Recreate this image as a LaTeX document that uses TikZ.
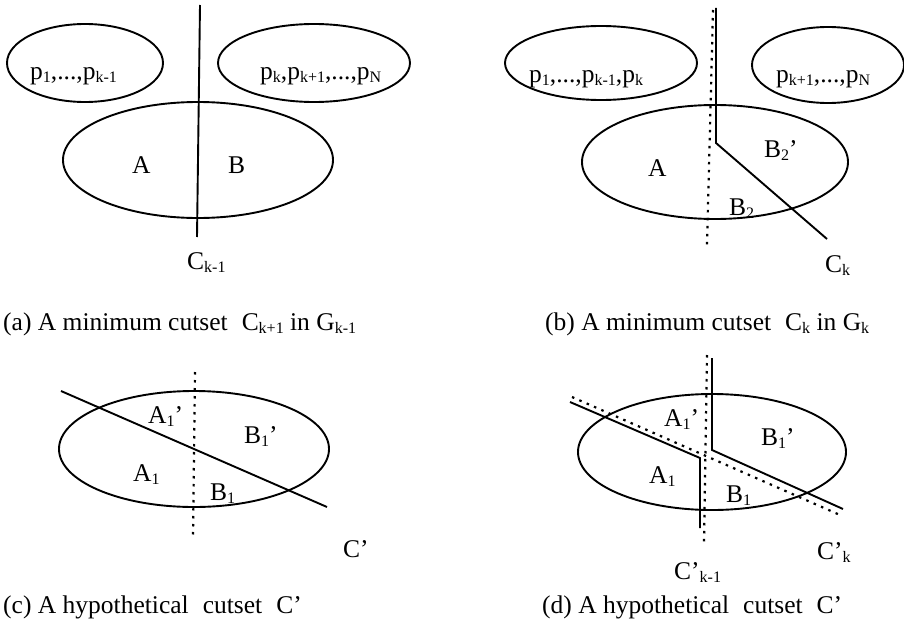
\documentclass[tikz,border=0pt]{standalone}
\usepackage{fontspec}
\setmainfont{Liberation Serif}
\usepackage{tikz}
\usetikzlibrary{positioning}
\newcommand{\lsub}[1]{\raisebox{-0.3ex}{\fontsize{16}{16}\selectfont #1}}
\newcommand{\wsp}{\hspace{0.55em}}

\begin{document}
\begin{tikzpicture}[x=1pt,y=-1pt,
    setline/.style={line width=1.9pt},
    cutline/.style={line width=1.9pt,line join=miter},
    dotline/.style={line width=2.2pt,dash pattern=on 2.5pt off 5.5pt},
    lbl/.style={font=\fontsize{25.5}{29}\selectfont,inner sep=0pt,anchor=base west}]
  \useasboundingbox (0,0) rectangle (904,626);
  % (a)
  \draw[setline] (85,63) ellipse [x radius=78pt,y radius=39pt];
  \draw[setline] (314,63) ellipse [x radius=96pt,y radius=39pt];
  \draw[setline] (198,160) ellipse [x radius=135pt,y radius=58pt];
  \draw[cutline] (200,5) -- (197,237);
  \node[lbl] (a-left) at (30,79) {p\lsub{1},...,p\lsub{k-1}};
  \node[lbl] (a-right) at (260,79) {p\lsub{k},p\lsub{k+1},...,p\lsub{N}};
  \node[lbl] (a-A) at (132,173) {A};
  \node[lbl] (a-B) at (228,173) {B};
  \node[lbl] (a-cut) at (187,269) {C\lsub{k-1}};
  \node[lbl] (a-cap) at (3,330) {(a) A minimum cutset\wsp C\lsub{k+1} in G\lsub{k-1}};
  % (b)
  \draw[setline] (601,63) ellipse [x radius=96pt,y radius=37pt];
  \draw[setline] (828,65) ellipse [x radius=76pt,y radius=38pt];
  \draw[setline] (715,162) ellipse [x radius=133pt,y radius=57pt];
  \draw[dotline] (713,10) -- (707,245);
  \draw[cutline] (716,8) -- (716,143) -- (827,239);
  \node[lbl] (b-left) at (529,82) {p\lsub{1},...,p\lsub{k-1},p\lsub{k}};
  \node[lbl] (b-right) at (776,82) {p\lsub{k+1},...,p\lsub{N}};
  \node[lbl] (b-A) at (648,176) {A};
  \node[lbl] (b-B2p) at (764,157) {B\lsub{2}’};
  \node[lbl] (b-B2) at (729,215) {B\lsub{2}};
  \node[lbl] (b-cut) at (825,272) {C\lsub{k}};
  \node[lbl] (b-cap) at (545,330) {(b) A minimum cutset\wsp C\lsub{k} in G\lsub{k}};
  % (c)
  \draw[setline] (194,449) ellipse [x radius=135pt,y radius=58pt];
  \draw[dotline] (195,372) -- (193,538);
  \draw[cutline] (61,391) -- (327,507);
  \node[lbl] (c-A1p) at (148,423) {A\lsub{1}’};
  \node[lbl] (c-B1p) at (244,443) {B\lsub{1}’};
  \node[lbl] (c-A1) at (133,481) {A\lsub{1}};
  \node[lbl] (c-B1) at (210,500) {B\lsub{1}};
  \node[lbl] (c-cut) at (343,557) {C’};
  \node[lbl] (c-cap) at (3,613) {(c) A hypothetical\wsp cutset\wsp C’};
  % (d)
  \draw[setline] (712,452) ellipse [x radius=134pt,y radius=58pt];
  \draw[dotline] (707,355) -- (704,543);
  \draw[dotline] (572,397) -- (840,515);
  \draw[cutline] (570,402) -- (700,458) -- (700,528);
  \draw[cutline] (712,358) -- (712,450) -- (843,509);
  \node[lbl] (d-A1p) at (664,426) {A\lsub{1}’};
  \node[lbl] (d-B1p) at (761,445) {B\lsub{1}’};
  \node[lbl] (d-A1) at (649,483) {A\lsub{1}};
  \node[lbl] (d-B1) at (726,502) {B\lsub{1}};
  \node[lbl] (d-cutk) at (817,559) {C’\lsub{k}};
  \node[lbl] (d-cutk1) at (674,579) {C’\lsub{k-1}};
  \node[lbl] (d-cap) at (542,613) {(d) A hypothetical\wsp cutset\wsp C’};
\end{tikzpicture}
\end{document}
